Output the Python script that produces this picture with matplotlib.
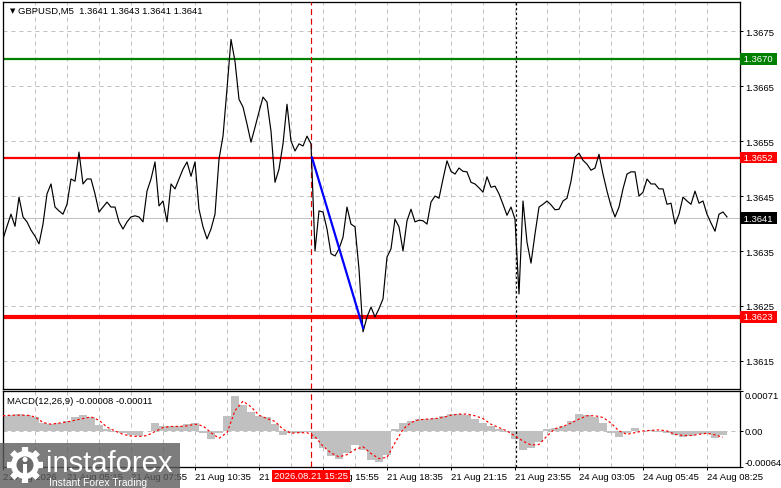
import numpy as np
import matplotlib.pyplot as plt
from matplotlib.patches import Rectangle, Circle
from matplotlib.transforms import blended_transform_factory

plt.rcParams['font.family'] = ['Liberation Sans', 'DejaVu Sans']
plt.rcParams['font.size'] = 6.8

PX = 0.72  # un pixel en puntos

# Cierres GBPUSD M5 (uno cada 2 velas)
close = [
    1.36372, 1.36395, 1.36417, 1.36395, 1.36448, 1.36412, 1.36403, 1.36388, 1.36377, 1.36363,
    1.36399, 1.36454, 1.36472, 1.36430, 1.36423, 1.36417, 1.36435, 1.36481, 1.36477, 1.36530,
    1.36472, 1.36481, 1.36481, 1.36454, 1.36421, 1.36430, 1.36439, 1.36430, 1.36430, 1.36403,
    1.36390, 1.36403, 1.36412, 1.36414, 1.36412, 1.36403, 1.36459, 1.36481, 1.36512, 1.36432,
    1.36441, 1.36403, 1.36472, 1.36463, 1.36481, 1.36499, 1.36512, 1.36486, 1.36512, 1.36426,
    1.36394, 1.36372, 1.36390, 1.36417, 1.36517, 1.36559, 1.36645, 1.36735, 1.36695, 1.36626,
    1.36612, 1.36581, 1.36548, 1.36575, 1.36603, 1.36630, 1.36621, 1.36568, 1.36475, 1.36499,
    1.36545, 1.36617, 1.36550, 1.36532, 1.36545, 1.36541, 1.36559, 1.36545, 1.36350, 1.36423,
    1.36421, 1.36390, 1.36345, 1.36341, 1.36354, 1.36375, 1.36430, 1.36399, 1.36394, 1.36317,
    1.36203, 1.36230, 1.36248, 1.36230, 1.36245, 1.36263, 1.36339, 1.36354, 1.36408, 1.36394,
    1.36350, 1.36405, 1.36426, 1.36403, 1.36406, 1.36405, 1.36399, 1.36439, 1.36450, 1.36446,
    1.36481, 1.36514, 1.36495, 1.36490, 1.36501, 1.36495, 1.36494, 1.36475, 1.36472, 1.36465,
    1.36457, 1.36485, 1.36466, 1.36468, 1.36454, 1.36435, 1.36415, 1.36430, 1.36408, 1.36272,
    1.36441, 1.36366, 1.36328, 1.36381, 1.36430, 1.36435, 1.36441, 1.36434, 1.36425, 1.36426,
    1.36441, 1.36446, 1.36477, 1.36521, 1.36528, 1.36515, 1.36508, 1.36497, 1.36501, 1.36526,
    1.36490, 1.36459, 1.36432, 1.36412, 1.36430, 1.36463, 1.36490, 1.36494, 1.36494, 1.36450,
    1.36457, 1.36481, 1.36472, 1.36472, 1.36463, 1.36463, 1.36435, 1.36437, 1.36399, 1.36417,
    1.36448, 1.36441, 1.36435, 1.36459, 1.36437, 1.36441, 1.36417, 1.36401, 1.36386, 1.36417,
    1.36421, 1.36412,
]
close_bar = np.arange(len(close)) * 2

# MACD(12,26,9): histograma y senal (uno cada 4 velas)
macd_main = [
    0.00027, 0.00029, 0.00031, 0.00028, 0.00024, 0.00014, 0.00012, 0.00015, 0.00017, 0.00024,
    0.00028, 0.00025, 0.00010, 0.00004, -0.00001, -0.00004, -0.00008, -0.00009, 0.00000, 0.00014,
    0.00009, 0.00008, 0.00009, 0.00012, 0.00014, -0.00003, -0.00015, -0.00003, 0.00027, 0.00062,
    0.00047, 0.00033, 0.00027, 0.00024, 0.00012, -0.00008, -0.00003, -0.00003, -0.00001, -0.00015,
    -0.00030, -0.00044, -0.00049, -0.00039, -0.00025, -0.00033, -0.00052, -0.00056, -0.00042, 0.00003,
    0.00015, 0.00018, 0.00021, 0.00021, 0.00023, 0.00027, 0.00031, 0.00030, 0.00028, 0.00021,
    0.00014, 0.00009, 0.00004, -0.00002, -0.00015, -0.00033, -0.00030, -0.00020, 0.00004, 0.00006,
    0.00008, 0.00018, 0.00030, 0.00028, 0.00024, 0.00015, -0.00003, -0.00010, -0.00003, 0.00006,
    0.00000, 0.00002, -0.00001, -0.00003, -0.00007, -0.00010, -0.00009, -0.00006, -0.00006, -0.00012,
    -0.00008,
]
macd_signal = [
    0.00027, 0.00028, 0.00028, 0.00028, 0.00025, 0.00015, 0.00012, 0.00014, 0.00016, 0.00019,
    0.00022, 0.00025, 0.00019, 0.00007, 0.00000, -0.00006, -0.00009, -0.00010, -0.00008, -0.00001,
    0.00006, 0.00008, 0.00008, 0.00009, 0.00012, 0.00009, -0.00003, -0.00013, -0.00003, 0.00036,
    0.00053, 0.00043, 0.00028, 0.00022, 0.00017, 0.00003, -0.00004, -0.00003, -0.00003, -0.00010,
    -0.00027, -0.00039, -0.00046, -0.00042, -0.00033, -0.00028, -0.00040, -0.00049, -0.00047, -0.00021,
    0.00003, 0.00015, 0.00020, 0.00021, 0.00022, 0.00024, 0.00028, 0.00030, 0.00030, 0.00027,
    0.00022, 0.00012, 0.00006, 0.00000, -0.00009, -0.00018, -0.00025, -0.00024, -0.00009, 0.00004,
    0.00008, 0.00014, 0.00021, 0.00027, 0.00027, 0.00024, 0.00014, 0.00000, -0.00006, -0.00003,
    0.00000, 0.00001, 0.00002, 0.00000, -0.00006, -0.00008, -0.00008, -0.00006, -0.00004, -0.00007,
    -0.00011,
]
macd_bar = np.arange(len(macd_main)) * 4

ohlc = [1.3641, 1.3643, 1.3641, 1.3641]

time_ticks = [0, 32, 64, 96, 128, 160, 192, 224, 256, 288, 320, 352]
time_labels = ['21 Aug 2026', '21 Aug 05:15', '21 Aug 07:55', '21 Aug 10:35',
               '21 Aug 13:15', '21 Aug 15:55', '21 Aug 18:35', '21 Aug 21:15',
               '21 Aug 23:55', '24 Aug 03:05', '24 Aug 05:45', '24 Aug 08:25']
price_ticks = [1.3615, 1.3625, 1.3635, 1.3645, 1.3655, 1.3665, 1.3675]

target_level = 1.3670
entry_level = 1.3652
support_level = 1.3623
last_close = 1.3641

# Movimiento desde la senal de las 15:25
move_bars = [154.5, 180]
move_prices = [1.3652, 1.3621]
signal_bar = 154
signal_text = '2026.08.21 15:25'
separator_bar = 256.5

W, H = 781, 489
fig = plt.figure(figsize=(W / 100, H / 100), dpi=100)
ax = fig.add_axes([3 / W, 99 / H, 737 / W, 387 / H])
mx = fig.add_axes([3 / W, 21 / H, 737 / W, 76 / H])

grid_kw = dict(color='#c0c0c0', lw=PX, ls=(0, (4, 4)), zorder=0)
for a in (ax, mx):
    a.set_xlim(0, 368.5)
    for b in range(16, 368, 16):
        a.axvline(b, **grid_kw)
    a.axvline(signal_bar, color='#e00000', lw=PX * 1.2, ls=(0, (5, 3)), zorder=3)
    a.axvline(separator_bar, color='black', lw=PX * 1.2, ls=(0, (2, 2)), zorder=3)
    for s in a.spines.values():
        s.set_linewidth(PX * 1.3)
        s.set_color('black')

# Panel de precios
for p in price_ticks:
    ax.axhline(p, **grid_kw)
ax.axhline(last_close, color='#c0c0c0', lw=PX, zorder=1)
ax.axhline(target_level, color='#008000', lw=1.6, zorder=2)
ax.axhline(entry_level, color='#ff0000', lw=1.6, zorder=2)
ax.axhline(support_level, color='#ff0000', lw=3.0, zorder=2)
ax.plot(close_bar, close, color='black', lw=0.85, zorder=4)
ax.plot(move_bars, move_prices, color='#0000ff', lw=1.6, zorder=5)

ax.set_ylim(1.36099, 1.36803)
ax.yaxis.tick_right()
ax.set_yticks(price_ticks)
ax.set_yticklabels(['%.4f' % p for p in price_ticks])
ax.tick_params(axis='y', direction='out', length=2.5, width=PX, pad=1.5, labelsize=6.8)
ax.tick_params(axis='x', bottom=False, labelbottom=False)

trans = blended_transform_factory(ax.transAxes, ax.transData)
for val, col in [(target_level, '#008000'), (entry_level, '#ff0000'),
                 (support_level, '#ff0000'), (last_close, 'black')]:
    ax.text(1.002, val, ' %.4f ' % val, transform=trans, ha='left', va='center',
            color='white', fontsize=6.8, clip_on=False, zorder=6,
            bbox=dict(boxstyle='square,pad=0.15', fc=col, ec='none'))

ax.text(9.5 / 737, 0.979, '\u25bc', transform=ax.transAxes, family='DejaVu Sans',
        fontsize=5, ha='center', va='center')
ax.text(15 / 737, 0.979, 'GBPUSD,M5  ' + ' '.join('%.4f' % v for v in ohlc),
        transform=ax.transAxes, ha='left', va='center', fontsize=6.8)

# Panel MACD
mx.axhline(0, **grid_kw)
mx.bar(macd_bar, macd_main, width=4, color='#c0c0c0', linewidth=0, zorder=2)
mx.plot(macd_bar, macd_signal, color='#ff0000', lw=PX * 1.2, ls=(0, (2, 2)), zorder=4)
mx.set_ylim(-0.00064, 0.00071)
mx.yaxis.tick_right()
mx.set_yticks([-0.00064, 0, 0.00071])
labs = mx.set_yticklabels(['-0.00064', '0.00', '0.00071'])
labs[0].set_va('bottom')
labs[2].set_va('top')
mx.tick_params(axis='y', direction='out', length=2, width=PX, pad=1, labelsize=6.8)
mx.set_xticks(time_ticks)
xl = mx.set_xticklabels(time_labels)
for t in xl:
    t.set_ha('left')
mx.tick_params(axis='x', direction='out', length=2, width=PX, pad=1.5, labelsize=6.8)
mx.text(4 / 737, 0.88, 'MACD(12,26,9) %.5f %.5f' % (macd_main[-1], macd_signal[-1]),
        transform=mx.transAxes, ha='left', va='center', fontsize=6.8)

mtrans = blended_transform_factory(mx.transData, mx.transAxes)
mx.text(signal_bar, -0.118, signal_text, transform=mtrans, ha='center', va='center',
        color='white', fontsize=6.8, clip_on=False, zorder=6,
        bbox=dict(boxstyle='square,pad=0.2', fc='#ff0000', ec='none'))

# Logo instaforex
lg = fig.add_axes([0, 0, 180 / W, 45 / H], zorder=10)
lg.set_xlim(0, 180)
lg.set_ylim(0, 45)
lg.axis('off')
lg.add_patch(Rectangle((0, 0), 180, 45, fc='#5c5c5c', alpha=0.8, ec='none'))
for ang in np.arange(0, 360, 45):
    r = np.radians(ang)
    lg.plot([25 + 11 * np.cos(r), 25 + 18 * np.cos(r)],
            [23 + 11 * np.sin(r), 23 + 18 * np.sin(r)],
            color='white', lw=4.5, solid_capstyle='butt')
lg.add_patch(Circle((25, 23), 14, fc='white', ec='none'))
lg.add_patch(Circle((25, 23), 8.5, fc='#6a6a6a', ec='none'))
lg.add_patch(Circle((25, 28.5), 2.5, fc='white', ec='none'))
lg.add_patch(Rectangle((23, 14), 4, 10, fc='white', ec='none'))
lg.text(46, 17, 'instaforex', color='white', fontsize=21, family='Liberation Sans',
        va='baseline', ha='left')
lg.text(49, 3, 'Instant Forex Trading', color='white', fontsize=7.5, va='baseline', ha='left')

fig.savefig('out.png', dpi=100)
